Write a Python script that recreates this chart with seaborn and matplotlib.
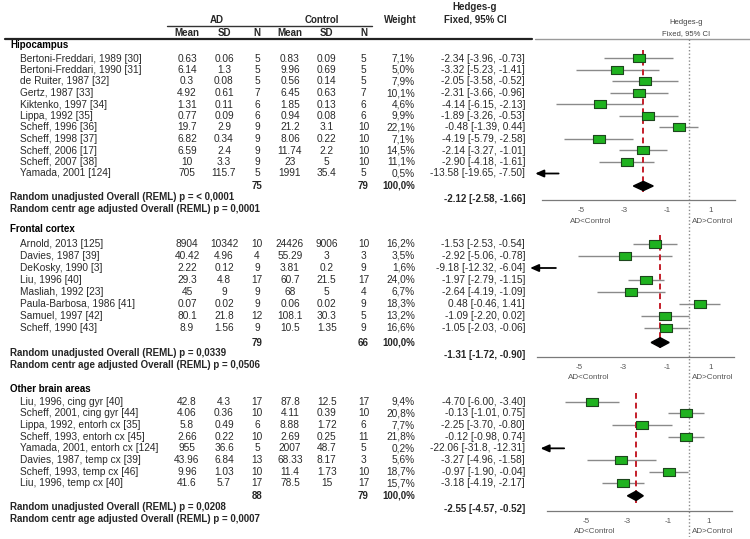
import numpy as np
import pandas as pd
import seaborn as sns
import matplotlib.pyplot as plt
from matplotlib.path import Path
from matplotlib.markers import MarkerStyle

# ---------------- data ----------------
# Hipocampus
hip_names = ["Bertoni-Freddari, 1989 [30]", "Bertoni-Freddari, 1990 [31]", "de Ruiter, 1987 [32]",
             "Gertz, 1987 [33]", "Kiktenko, 1997 [34]", "Lippa, 1992 [35]", "Scheff, 1996 [36]",
             "Scheff, 1998 [37]", "Scheff, 2006 [17]", "Scheff, 2007 [38]", "Yamada, 2001 [124]"]
hip_ad_mean = ["0.63", "6.14", "0.3", "4.92", "1.31", "0.77", "19.7", "6.82", "6.59", "10", "705"]
hip_ad_sd = ["0.06", "1.3", "0.08", "0.61", "0.11", "0.09", "2.9", "0.34", "2.4", "3.3", "115.7"]
hip_ad_n = ["5", "5", "5", "7", "6", "6", "9", "9", "9", "9", "5"]
hip_ctl_mean = ["0.83", "9.96", "0.56", "6.45", "1.85", "0.94", "21.2", "8.06", "11.74", "23", "1991"]
hip_ctl_sd = ["0.09", "0.69", "0.14", "0.63", "0.13", "0.08", "3.1", "0.22", "2.2", "5", "35.4"]
hip_ctl_n = ["5", "5", "5", "7", "6", "6", "10", "10", "10", "10", "5"]
hip_weight = ["7,1%", "5,0%", "7,9%", "10,1%", "4,6%", "9,9%", "22,1%", "7,1%", "14,5%", "11,1%", "0,5%"]
hip_g = [-2.34, -3.32, -2.05, -2.31, -4.14, -1.89, -0.48, -4.19, -2.14, -2.90, -13.58]
hip_lo = [-3.96, -5.23, -3.58, -3.66, -6.15, -3.26, -1.39, -5.79, -3.27, -4.18, -19.65]
hip_hi = [-0.73, -1.41, -0.52, -0.96, -2.13, -0.53, 0.44, -2.58, -1.01, -1.61, -7.50]
hip_ci_text = ["-2.34 [-3.96, -0.73]", "-3.32 [-5.23, -1.41]", "-2.05 [-3.58, -0.52]", "-2.31 [-3.66, -0.96]",
               "-4.14 [-6.15, -2.13]", "-1.89 [-3.26, -0.53]", "-0.48 [-1.39, 0.44]", "-4.19 [-5.79, -2.58]",
               "-2.14 [-3.27, -1.01]", "-2.90 [-4.18, -1.61]", "-13.58 [-19.65, -7.50]"]
hip_totals = ["75", "79"]
hip_overall = [-2.12, -2.58, -1.66]
hip_diamond = [-2.58, -1.66]
hip_p = ["< 0,0001", "0,0001"]

# Frontal cortex
fc_names = ["Arnold, 2013 [125]", "Davies, 1987 [39]", "DeKosky, 1990 [3]", "Liu, 1996 [40]",
            "Masliah, 1992 [23]", "Paula-Barbosa, 1986 [41]", "Samuel, 1997 [42]", "Scheff, 1990 [43]"]
fc_ad_mean = ["8904", "40.42", "2.22", "29.3", "45", "0.07", "80.1", "8.9"]
fc_ad_sd = ["10342", "4.96", "0.12", "4.8", "9", "0.02", "21.8", "1.56"]
fc_ad_n = ["10", "4", "9", "17", "9", "9", "12", "9"]
fc_ctl_mean = ["24426", "55.29", "3.81", "60.7", "68", "0.06", "108.1", "10.5"]
fc_ctl_sd = ["9006", "3", "0.2", "21.5", "5", "0.02", "30.3", "1.35"]
fc_ctl_n = ["10", "3", "9", "17", "4", "9", "5", "9"]
fc_weight = ["16,2%", "3,5%", "1,6%", "24,0%", "6,7%", "18,3%", "13,2%", "16,6%"]
fc_g = [-1.53, -2.92, -9.18, -1.97, -2.64, 0.48, -1.09, -1.05]
fc_lo = [-2.53, -5.06, -12.32, -2.79, -4.19, -0.46, -2.20, -2.03]
fc_hi = [-0.54, -0.78, -6.04, -1.15, -1.09, 1.41, 0.02, -0.06]
fc_ci_text = ["-1.53 [-2.53, -0.54]", "-2.92 [-5.06, -0.78]", "-9.18 [-12.32, -6.04]", "-1.97 [-2.79, -1.15]",
              "-2.64 [-4.19, -1.09]", "0.48 [-0.46, 1.41]", "-1.09 [-2.20, 0.02]", "-1.05 [-2.03, -0.06]"]
fc_totals = ["79", "66"]
fc_overall = [-1.31, -1.72, -0.90]
fc_diamond = [-1.72, -0.90]
fc_p = ["0,0339", "0,0506"]

# Other brain areas
ob_names = ["Liu, 1996, cing gyr [40]", "Scheff, 2001, cing gyr [44]", "Lippa, 1992, entorh cx [35]",
            "Scheff, 1993, entorh cx [45]", "Yamada, 2001, entorh cx [124]", "Davies, 1987, temp cx [39]",
            "Scheff, 1993, temp cx [46]", "Liu, 1996, temp cx [40]"]
ob_ad_mean = ["42.8", "4.06", "5.8", "2.66", "955", "43.96", "9.96", "41.6"]
ob_ad_sd = ["4.3", "0.36", "0.49", "0.22", "36.6", "6.84", "1.03", "5.7"]
ob_ad_n = ["17", "10", "6", "10", "5", "13", "10", "17"]
ob_ctl_mean = ["87.8", "4.11", "8.88", "2.69", "2007", "68.33", "11.4", "78.5"]
ob_ctl_sd = ["12.5", "0.39", "1.72", "0.25", "48.7", "8.17", "1.73", "15"]
ob_ctl_n = ["17", "10", "6", "11", "5", "3", "10", "17"]
ob_weight = ["9,4%", "20,8%", "7,7%", "21,8%", "0,2%", "5,6%", "18,7%", "15,7%"]
ob_g = [-4.70, -0.13, -2.25, -0.12, -22.06, -3.27, -0.97, -3.18]
ob_lo = [-6.00, -1.01, -3.70, -0.98, -31.8, -4.96, -1.90, -4.19]
ob_hi = [-3.40, 0.75, -0.80, 0.74, -12.31, -1.58, -0.04, -2.17]
ob_ci_text = ["-4.70 [-6.00, -3.40]", "-0.13 [-1.01, 0.75]", "-2.25 [-3.70, -0.80]", "-0.12 [-0.98, 0.74]",
              "-22.06 [-31.8, -12.31]", "-3.27 [-4.96, -1.58]", "-0.97 [-1.90, -0.04]", "-3.18 [-4.19, -2.17]"]
ob_totals = ["88", "79"]
ob_overall = [-2.55, -4.57, -0.52]
ob_diamond = [-2.97, -2.20]
ob_p = ["0,0208", "0,0007"]

sections = [
    dict(title="Hipocampus", names=hip_names,
         cols=[hip_ad_mean, hip_ad_sd, hip_ad_n, hip_ctl_mean, hip_ctl_sd, hip_ctl_n],
         weight=hip_weight, g=hip_g, lo=hip_lo, hi=hip_hi, ci=hip_ci_text,
         totals=hip_totals, overall=hip_overall, diamond=hip_diamond, p=hip_p),
    dict(title="Frontal cortex", names=fc_names,
         cols=[fc_ad_mean, fc_ad_sd, fc_ad_n, fc_ctl_mean, fc_ctl_sd, fc_ctl_n],
         weight=fc_weight, g=fc_g, lo=fc_lo, hi=fc_hi, ci=fc_ci_text,
         totals=fc_totals, overall=fc_overall, diamond=fc_diamond, p=fc_p),
    dict(title="Other brain areas", names=ob_names,
         cols=[ob_ad_mean, ob_ad_sd, ob_ad_n, ob_ctl_mean, ob_ctl_sd, ob_ctl_n],
         weight=ob_weight, g=ob_g, lo=ob_lo, hi=ob_hi, ci=ob_ci_text,
         totals=ob_totals, overall=ob_overall, diamond=ob_diamond, p=ob_p),
]

# ---------------- layout (pixels) ----------------
layout = [
    dict(head=45, row0=58.5, dy=11.5, total=186, r1=197.5, r2=208.5,
         axis=200, left=541.7, right=735, zero=689, scale=21.55),
    dict(head=229.3, row0=244, dy=12, total=342.5, r1=353.5, r2=365.3,
         axis=356.7, left=536.7, right=734, zero=689, scale=22.0),
    dict(head=389.3, row0=401.7, dy=11.66, total=495.8, r1=507.5, r2=519.3,
         axis=510.7, left=546.7, right=731.7, zero=688.5, scale=20.55),
]

sns.set_style("white")
plt.rcParams['font.family'] = ['Liberation Sans', 'DejaVu Sans']

W, H = 750, 539
FS = 7.3      # regular table text
FSB = 7       # bold table text
TXT = '#2a2a2a'
col_x = [187, 224, 257, 290, 326.7, 363.5]
GREEN = '#1fb21f'
RECT = MarkerStyle(Path([(-1.7, -1), (1.7, -1), (1.7, 1), (-1.7, 1), (-1.7, -1)], closed=True))

fig = plt.figure(figsize=(7.5, 5.39), dpi=100)
tab = fig.add_axes([0, 0, 1, 1])
tab.set_xlim(0, W)
tab.set_ylim(H, 0)
tab.axis('off')


def frac(left, top, right, bottom):
    return [left / W, 1 - bottom / H, (right - left) / W, (bottom - top) / H]


# table header
tab.text(216.7, 20, 'AD', ha='center', va='center', weight='bold', fontsize=FSB)
tab.text(321.7, 20, 'Control', ha='center', va='center', weight='bold', fontsize=FSB)
tab.text(400, 20, 'Weight', ha='center', va='center', weight='bold', fontsize=FSB)
tab.text(475, 7.5, 'Hedges-g', ha='center', va='center', weight='bold', fontsize=FSB)
tab.text(475, 20, 'Fixed, 95% CI', ha='center', va='center', weight='bold', fontsize=FSB)
for x, lab in zip(col_x, ['Mean', 'SD', 'N', 'Mean', 'SD', 'N']):
    tab.text(x, 32.5, lab, ha='center', va='center', weight='bold', fontsize=FSB)
tab.plot([167, 372], [26, 26], color='#333333', lw=1)
tab.plot([5, 532], [39.3, 39.3], color='#222222', lw=1.6)
tab.plot([535, 750], [39.3, 39.3], color='#9a9a9a', lw=1)
tab.text(686, 23, 'Hedges-g', ha='center', va='center', fontsize=5.5, color='#444444')
tab.text(686, 33.5, 'Fixed, 95% CI', ha='center', va='center', fontsize=5.5, color='#444444')

# dotted zero line through the whole forest column
g0 = layout[0]
bg = fig.add_axes(frac(g0['left'], 39.3, g0['right'], 537))
bg.set_xlim((g0['left'] - g0['zero']) / g0['scale'], (g0['right'] - g0['zero']) / g0['scale'])
bg.axvline(0, color='#8c8c8c', ls=(0, (1, 1.5)), lw=1)
bg.axis('off')
bg.set_facecolor('none')

for sec, geo in zip(sections, layout):
    n = len(sec['names'])
    row0, dy = geo['row0'], geo['dy']
    ys = [row0 + dy * i for i in range(n)]

    # ---- table part ----
    tab.text(10, geo['head'], sec['title'], ha='left', va='center', weight='bold', fontsize=FSB, color='black')
    for i, y in enumerate(ys):
        tab.text(20, y, sec['names'][i], ha='left', va='center', fontsize=FS, color=TXT)
        for x, col in zip(col_x, sec['cols']):
            tab.text(x, y, col[i], ha='center', va='center', fontsize=FS, color=TXT)
        tab.text(415, y, sec['weight'][i], ha='right', va='center', fontsize=FS, color=TXT)
        tab.text(525, y, sec['ci'][i], ha='right', va='center', fontsize=FS, color=TXT)
    tab.text(col_x[2], geo['total'], sec['totals'][0], ha='center', va='center', weight='bold', fontsize=FSB)
    tab.text(col_x[5], geo['total'], sec['totals'][1], ha='center', va='center', weight='bold', fontsize=FSB)
    tab.text(415, geo['total'], '100,0%', ha='right', va='center', weight='bold', fontsize=FSB)
    est, olo, ohi = sec['overall']
    tab.text(525, geo['r1'] + 1.5, f"{est:.2f} [{olo:.2f}, {ohi:.2f}]", ha='right', va='center',
             weight='bold', fontsize=FSB)
    tab.text(10, geo['r1'], f"Random unadjusted Overall (REML) p = {sec['p'][0]}", ha='left',
             va='center', weight='bold', fontsize=FSB)
    tab.text(10, geo['r2'], f"Random centr age adjusted Overall (REML) p = {sec['p'][1]}", ha='left',
             va='center', weight='bold', fontsize=FSB)

    # ---- forest part ----
    diam_row = (geo['total'] - row0) / dy
    bottom_row = (geo['axis'] - row0) / dy
    ax = fig.add_axes(frac(geo['left'], row0 - dy * 1.2, geo['right'], geo['axis']))
    ax.set_facecolor('none')
    xmin = (geo['left'] - geo['zero']) / geo['scale']
    xmax = (geo['right'] - geo['zero']) / geo['scale']
    ax.set_xlim(xmin, xmax)
    ax.set_ylim(bottom_row, -1.2)

    df = pd.DataFrame({'g': sec['g'], 'lo': sec['lo'], 'hi': sec['hi'], 'row': np.arange(n)})
    shown = df[df['g'] > xmin]
    off = df[df['g'] <= xmin]

    ax.hlines(shown['row'], shown['lo'].clip(lower=xmin), shown['hi'].clip(upper=xmax),
              color='#8a8a8a', lw=1, zorder=1)
    sns.scatterplot(data=shown, x='g', y='row', marker=RECT, s=80, color=GREEN,
                    edgecolor='#1d461d', linewidth=0.8, zorder=3, legend=False, ax=ax)
    for r in off['row']:
        ax.annotate('', xy=(xmin - 0.3, r), xytext=(-6.05, r), annotation_clip=False,
                    arrowprops=dict(arrowstyle='-|>,head_length=0.5,head_width=0.22',
                                    color='black', lw=1.3, shrinkA=0, shrinkB=0))

    dlo, dhi = sec['diamond']
    ax.fill([dlo, est, dhi, est], [diam_row, diam_row - 0.4, diam_row, diam_row + 0.4],
            color='black', zorder=4)
    ax.plot([est, est], [-0.75, diam_row + 0.65], color='#c41e2a', ls=(0, (3, 2)), lw=1.4, zorder=2)

    for s in ['top', 'left', 'right']:
        ax.spines[s].set_visible(False)
    ax.spines['bottom'].set_color('#7a7a7a')
    ax.spines['bottom'].set_linewidth(0.9)
    ax.set_yticks([])
    ax.set_xticks([-5, -3, -1, 1])
    ax.set_xticklabels(['-5', '-3', '-1', '1'])
    ax.tick_params(axis='x', direction='inout', length=6, width=0.8, color='#7a7a7a',
                   labelsize=5.8, labelcolor='#555555', pad=2.2)
    ax.set_xlabel('')
    ax.set_ylabel('')
    ax.annotate('AD<Control', xy=(-4.55, 0), xycoords=('data', 'axes fraction'), xytext=(0, -15.3),
                textcoords='offset points', ha='center', va='center', fontsize=5.8, color='#555555')
    ax.annotate('AD>Control', xy=(0.15, 0), xycoords=('data', 'axes fraction'), xytext=(0, -15.3),
                textcoords='offset points', ha='left', va='center', fontsize=5.8, color='#555555')

fig.savefig('out.png', dpi=100)
